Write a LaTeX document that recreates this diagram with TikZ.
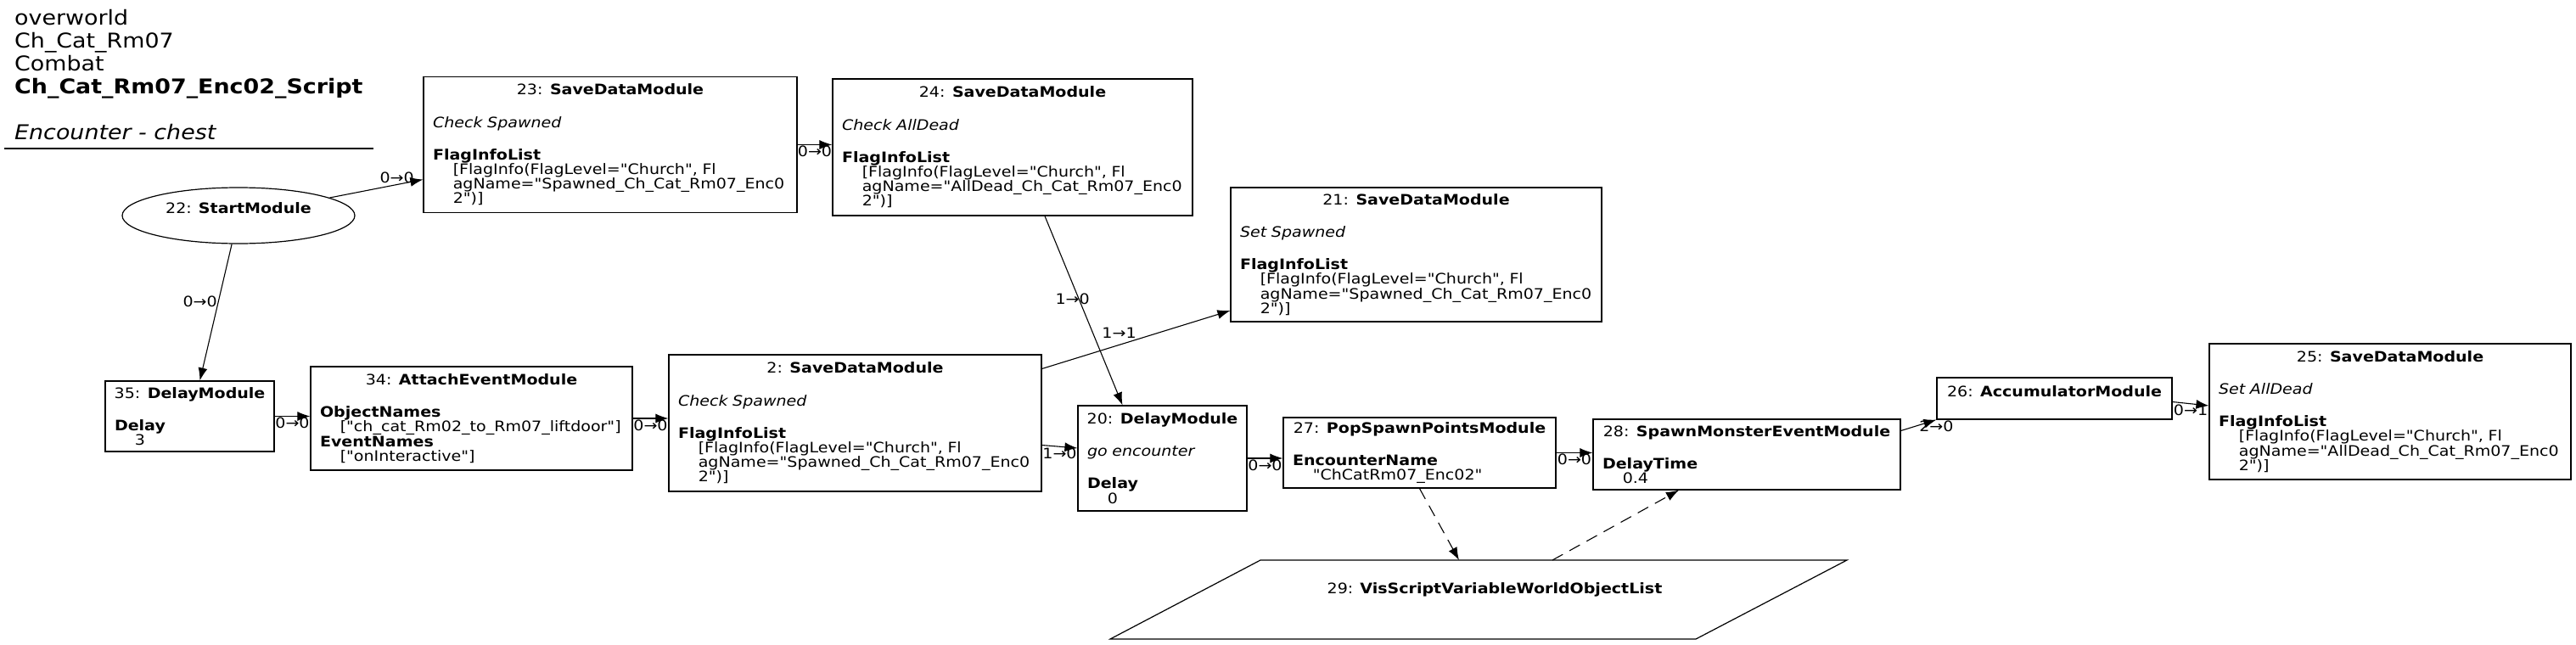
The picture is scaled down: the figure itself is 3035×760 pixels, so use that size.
\documentclass[tikz,border=0pt]{standalone}
\usepackage{fontspec}
\setmainfont{DejaVu Sans}[FakeStretch=1.12, Ligatures=TeXOff]
\usetikzlibrary{arrows.meta,shapes.geometric,positioning}
\tikzset{
    basic/.style = {draw, line width=1.2pt, font=\fontsize{17}{17.2}\selectfont},
    module/.style 2 args = {basic, rectangle, align=left, inner xsep=11pt, inner ysep=3pt, text width=#1, minimum height=#2},
    start/.style = {basic, ellipse, align=center, inner sep=0pt, minimum width=274pt, minimum height=66pt},
    varlist/.style = {font=\fontsize{17}{17.2}\selectfont, inner sep=0pt},
    port/.style = {font=\fontsize{17}{17.2}\selectfont, inner sep=1pt},
    flow/.style = {-{Latex[length=15pt,width=11pt]}, line width=1.1pt},
    dataflow/.style = {flow, dash pattern=on 14pt off 9pt}
}
\newcommand{\modtitle}[2]{\makebox[\linewidth]{#1: \textbf{#2}}}
\newcommand{\modval}[1]{\hspace*{1.4em}#1}
\begin{document}
\begin{tikzpicture}[x=1pt, y=-1pt]
\useasboundingbox (0,0) rectangle (3035,760);

\node[anchor=north west, inner sep=0pt, align=left, font=\fontsize{24}{27}\selectfont] (title) at (17,11)
  {overworld\\Ch\_Cat\_Rm07\\Combat\\\textbf{Ch\_Cat\_Rm07\_Enc02\_Script}\\[27pt]\textit{Encounter - chest}};
\draw[line width=1.2pt] (5,175) -- (440,175);

\node[start] (n22) at (281,254) {22: \textbf{StartModule}\\~};

\node[module={418pt}{160pt}] (n23) at (719,170.5) {\modtitle{23}{SaveDataModule}\\[21pt]
  \textit{Check Spawned}\\[21pt]
  \textbf{FlagInfoList}\\
  \modval{[FlagInfo(FlagLevel="Church", Fl}\\
  \modval{agName="Spawned\_Ch\_Cat\_Rm07\_Enc0}\\
  \modval{2")]}};

\node[module={402pt}{161pt}] (n24) at (1193,173.5) {\modtitle{24}{SaveDataModule}\\[21pt]
  \textit{Check AllDead}\\[21pt]
  \textbf{FlagInfoList}\\
  \modval{[FlagInfo(FlagLevel="Church", Fl}\\
  \modval{agName="AllDead\_Ch\_Cat\_Rm07\_Enc0}\\
  \modval{2")]}};

\node[module={415pt}{158pt}] (n21) at (1668.5,300) {\modtitle{21}{SaveDataModule}\\[21pt]
  \textit{Set Spawned}\\[21pt]
  \textbf{FlagInfoList}\\
  \modval{[FlagInfo(FlagLevel="Church", Fl}\\
  \modval{agName="Spawned\_Ch\_Cat\_Rm07\_Enc0}\\
  \modval{2")]}};

\node[module={177pt}{83pt}] (n35) at (223.5,490.5) {\modtitle{35}{DelayModule}\\[21pt]
  \textbf{Delay}\\
  \modval{3}};

\node[module={357pt}{122pt}] (n34) at (555.5,493) {\modtitle{34}{AttachEventModule}\\[21pt]
  \textbf{ObjectNames}\\
  \modval{["ch\_cat\_Rm02\_to\_Rm07\_liftdoor"]}\\
  \textbf{EventNames}\\
  \modval{["onInteractive"]}};

\node[module={417pt}{161pt}] (n2) at (1007.5,498.5) {\modtitle{2}{SaveDataModule}\\[21pt]
  \textit{Check Spawned}\\[21pt]
  \textbf{FlagInfoList}\\
  \modval{[FlagInfo(FlagLevel="Church", Fl}\\
  \modval{agName="Spawned\_Ch\_Cat\_Rm07\_Enc0}\\
  \modval{2")]}};

\node[module={177pt}{124pt}] (n20) at (1369.5,540) {\modtitle{20}{DelayModule}\\[21pt]
  \textit{go encounter}\\[21pt]
  \textbf{Delay}\\
  \modval{0}};

\node[module={299pt}{83pt}] (n27) at (1672.5,533.5) {\modtitle{27}{PopSpawnPointsModule}\\[21pt]
  \textbf{EncounterName}\\
  \modval{"ChCatRm07\_Enc02"}};

\node[module={340pt}{83pt}] (n28) at (2058,535.5) {\modtitle{28}{SpawnMonsterEventModule}\\[21pt]
  \textbf{DelayTime}\\
  \modval{0.4}};

\node[module={255pt}{49pt}] (n26) at (2420.5,469.5) {\modtitle{26}{AccumulatorModule}\\~};

\node[module={404pt}{160pt}] (n25) at (2816,485) {\modtitle{25}{SaveDataModule}\\[21pt]
  \textit{Set AllDead}\\[21pt]
  \textbf{FlagInfoList}\\
  \modval{[FlagInfo(FlagLevel="Church", Fl}\\
  \modval{agName="AllDead\_Ch\_Cat\_Rm07\_Enc0}\\
  \modval{2")]}};

\coordinate (p29a) at (1308,753);
\coordinate (p29b) at (1998,753);
\coordinate (p29c) at (2176,660);
\coordinate (p29d) at (1485,660);
\draw[line width=1.2pt] (p29a) -- (p29b) -- (p29c) -- (p29d) -- cycle;
\node[varlist] (n29) at (1761,695) {29: \textbf{VisScriptVariableWorldObjectList}};
\coordinate (n29in) at (1719,660);
\coordinate (n29out) at (1829,660);

\draw[flow] (n22) -- ([yshift=-41pt]n23.west) node[port, pos=0.72, above] {0→0};
\draw[flow] (n22) -- ([xshift=12pt]n35.north) node[port, pos=0.42, left] {0→0};
\draw[flow] (n23.east) -- (n23.east -| n24.west) node[port, midway, below] {0→0};
\draw[flow] ([xshift=38pt]n24.south) -- ([xshift=-47pt]n20.north) node[port, pos=0.44, left, xshift=14pt] {1→0};
\draw[flow] ([yshift=64pt]n2.east) -- ([yshift=-66pt]n21.west) node[port, pos=0.41, above=6pt] {1→1};
\draw[flow] (n35.east) -- (n35.east -| n34.west) node[port, midway, below] {0→0};
\draw[flow] (n34.east) -- (n34.east -| n2.west) node[port, midway, below] {0→0};
\draw[flow] ([yshift=-26pt]n2.east) -- ([yshift=12pt]n20.west) node[port, midway, below] {1→0};
\draw[flow] (n20.east) -- (n20.east -| n27.west) node[port, midway, below] {0→0};
\draw[flow] (n27.east) -- (n27.east -| n28.west) node[port, midway, below] {0→0};
\draw[flow] ([yshift=28pt]n28.east) -- (n26.south west) node[port, at end, below] {2→0};
\draw[flow] ([yshift=-4pt]n26.east) -- ([yshift=7pt]n25.west) node[port, midway, below] {0→1};
\draw[dataflow] (n27.south) -- (n29in);
\draw[dataflow] (n29out) -- ([xshift=-80pt]n28.south);
\end{tikzpicture}
\end{document}
